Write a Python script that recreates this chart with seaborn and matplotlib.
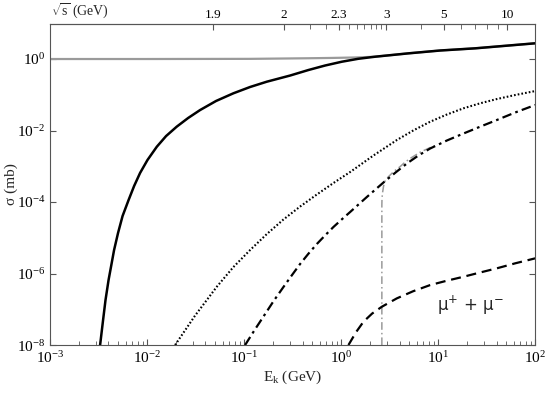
import numpy as np
import matplotlib
matplotlib.use("Agg")
import matplotlib.pyplot as plt
import seaborn as sns
from matplotlib.ticker import (FixedLocator, FixedFormatter, NullFormatter,
                               NullLocator, LogLocator)

sns.set_style("ticks")
plt.rcParams['font.family'] = ['Liberation Serif', 'DejaVu Serif']
plt.rcParams['mathtext.fontset'] = 'custom'
plt.rcParams['mathtext.rm'] = 'Liberation Serif'
plt.rcParams['mathtext.it'] = 'Liberation Serif:italic'
plt.rcParams['mathtext.bf'] = 'Liberation Serif:bold'
plt.rcParams['axes.unicode_minus'] = True

# kinetic energy E_k (GeV) and cross section (mb)

# gray solid
ek_gray = [1e-3, 1e-2, 0.115, 0.235, 0.46, 0.77, 1.02, 1.5, 2.24, 4.94,
           10.5, 24.1, 49.1, 100]
sig_gray = [1.0, 1.0, 1.01, 1.03, 1.05, 1.07, 1.085, 1.11, 1.16, 1.44,
            1.73, 1.99, 2.34, 2.75]

# black solid
ek_solid = [3.28e-3, 3.52e-3, 3.73e-3, 4.01e-3, 4.25e-3, 4.57e-3, 5.02e-3,
            5.59e-3, 6.45e-3, 7.35e-3, 8.47e-3, 1.01e-2, 1.26e-2, 1.57e-2,
            2.02e-2, 2.65e-2, 3.52e-2, 5.14e-2, 7.76e-2, 0.1153, 0.1714,
            0.298, 0.460, 0.684, 1.017, 1.497, 2.24, 4.94, 10.5, 24.1, 49.1,
            100]
sig_solid = [1e-8, 5.0e-8, 1.82e-7, 6.6e-7, 1.55e-6, 4.54e-6, 1.36e-5,
             4.06e-5, 1.14e-4, 2.8e-4, 6.5e-4, 1.50e-3, 3.52e-3, 7.0e-3,
             1.28e-2, 2.24e-2, 3.74e-2, 6.7e-2, 0.110, 0.165, 0.232, 0.345,
             0.492, 0.658, 0.840, 1.013, 1.16, 1.44, 1.73, 1.99, 2.34, 2.75]

# dotted
ek_dot = [0.01944, 0.03125, 0.0523, 0.0776, 0.1153, 0.1714, 0.2542, 0.3778,
          0.5615, 0.833, 1.238, 2.153, 3.752, 5.565, 8.27, 12.29, 18.23,
          27.1, 40.3, 62.2, 100]
sig_dot = [1e-8, 6.68e-8, 4.27e-7, 1.52e-6, 4.54e-6, 1.27e-5, 3.24e-5,
           7.48e-5, 1.62e-4, 3.40e-4, 6.9e-4, 2.0e-3, 5.42e-3, 1.01e-2,
           1.76e-2, 2.80e-2, 4.18e-2, 5.77e-2, 7.6e-2, 9.84e-2, 0.127]

# black dash-dot
ek_dd = [0.1024, 0.1283, 0.1608, 0.2014, 0.2542, 0.3102, 0.3778, 0.4601,
         0.5615, 0.6842, 0.8330, 1.017, 1.238, 1.840, 2.842, 3.690, 4.790,
         6.295, 8.27, 12.29, 18.23, 27.1, 40.3, 62.2, 100]
sig_dd = [1e-8, 2.63e-8, 6.68e-8, 1.70e-7, 4.19e-7, 8.9e-7, 1.85e-6,
          3.58e-6, 6.68e-6, 1.17e-5, 2.0e-5, 3.28e-5, 5.25e-5, 1.38e-4,
          3.86e-4, 6.9e-4, 1.21e-3, 2.02e-3, 3.14e-3, 5.25e-3, 8.24e-3,
          1.28e-2, 1.97e-2, 3.19e-2, 5.17e-2]

# gray dash-dot (threshold)
ek_gdd = [2.63, 2.63, 2.64, 2.68, 2.74, 2.84, 3.05, 3.36, 3.69, 4.06, 4.57,
          5.14, 6.52, 8.27, 9.77]
sig_gdd = [1e-8, 8.2e-5, 1.29e-4, 1.9e-4, 2.8e-4, 3.86e-4, 5.0e-4, 6.47e-4,
           8.1e-4, 9.8e-4, 1.31e-3, 1.65e-3, 2.47e-3, 3.34e-3, 3.98e-3]

# dashed, mu+ mu-
ek_mu = [1.19, 1.428, 1.70, 2.087, 2.63, 3.75, 5.525, 8.27, 12.29, 18.23,
         27.1, 40.3, 62.2, 100]
sig_mu = [1e-8, 2.31e-8, 4.49e-8, 7.6e-8, 1.18e-7, 2.02e-7, 3.2e-7, 4.76e-7,
          6.3e-7, 8.13e-7, 1.07e-6, 1.40e-6, 1.93e-6, 2.66e-6]

# top axis sqrt(s) ticks
sqrts_major = [1.9, 2, 2.3, 3, 5, 10]
sqrts_labels = ['1.9', '2', '2.3', '3', '5', '10']
sqrts_minor = [2.1, 2.2, 2.4, 2.5, 2.6, 2.7, 2.8, 2.9, 4, 6, 7, 8, 9]

MP = 0.938


def ek_to_sqrts(e):
    e = np.clip(np.asarray(e, dtype=float), 0, None)
    return np.sqrt(4 * MP**2 + 2 * MP * e)


def sqrts_to_ek(s):
    s = np.asarray(s, dtype=float)
    return np.clip((s**2 - 4 * MP**2) / (2 * MP), 1e-12, None)


fig, ax = plt.subplots(figsize=(5.5, 3.93), dpi=100)
fig.subplots_adjust(left=0.091, right=0.973, bottom=0.122, top=0.939)
ax.set_xscale('log')
ax.set_yscale('log')

gray = '#9a9a9a'
common = dict(ax=ax, estimator=None, sort=False)
sns.lineplot(x=ek_gray, y=sig_gray, color=gray, lw=1.6, **common)
sns.lineplot(x=ek_solid, y=sig_solid, color='black', lw=1.8, **common)
sns.lineplot(x=ek_dot, y=sig_dot, color='black', lw=1.5,
             linestyle=(0, (0.8, 1.0)), **common)
sns.lineplot(x=ek_gdd, y=sig_gdd, color=gray, lw=1.1,
             linestyle=(0, (5, 2, 1, 2)), **common)
sns.lineplot(x=ek_dd, y=sig_dd, color='black', lw=1.6,
             linestyle=(0, (4.3, 1.9, 1.2, 1.9)), **common)
sns.lineplot(x=ek_mu, y=sig_mu, color='black', lw=1.6,
             linestyle=(0, (4.5, 2.6)), **common)

ax.set_xlim(1e-3, 1e2)
ax.set_ylim(1e-8, 10**0.98)
ax.yaxis.set_major_locator(FixedLocator([1e-8, 1e-6, 1e-4, 1e-2, 1e0]))
ax.yaxis.set_minor_locator(NullLocator())
ax.xaxis.set_minor_locator(LogLocator(base=10, subs=np.arange(2, 10)))
ax.xaxis.set_minor_formatter(NullFormatter())

spine_c = '#555555'
for s in ax.spines.values():
    s.set_color(spine_c)
    s.set_linewidth(0.8)
ax.tick_params(which='both', direction='in', colors=spine_c,
               labelcolor='black', labelsize=11, right=True, top=False)
ax.tick_params(which='major', length=4)
ax.tick_params(which='minor', length=3)

ax.set_xlabel(r'E$_\mathrm{k}$ (GeV)', fontsize=11, labelpad=2)
ax.set_ylabel('σ (mb)', fontsize=11)
ax.yaxis.set_label_coords(-0.066, 0.5)

top = ax.secondary_xaxis('top', functions=(ek_to_sqrts, sqrts_to_ek))
top.xaxis.set_major_locator(FixedLocator(sqrts_major))
top.xaxis.set_major_formatter(FixedFormatter(sqrts_labels))
top.xaxis.set_minor_locator(FixedLocator(sqrts_minor))
top.xaxis.set_minor_formatter(NullFormatter())
top.tick_params(which='both', direction='in', colors=spine_c,
                labelcolor='black', labelsize=9.5, pad=2)
top.tick_params(which='major', length=4)
top.tick_params(which='minor', length=3.5)
top.spines['top'].set_color(spine_c)

ax.annotate(r'$\sqrt{\mathrm{s}}$ (GeV)', xy=(0, 1), xycoords='axes fraction',
            xytext=(1, 2), textcoords='offset points', ha='left',
            va='bottom', fontsize=10)

ax.text(0.866, 0.125, r'$\mathrm{μ}^{+}$ + $\mathrm{μ}^{-}$',
        transform=ax.transAxes, ha='center', va='center', fontsize=12,
        math_fontfamily='dejavusans', family='DejaVu Sans')

fig.savefig('out.png', dpi=100)
